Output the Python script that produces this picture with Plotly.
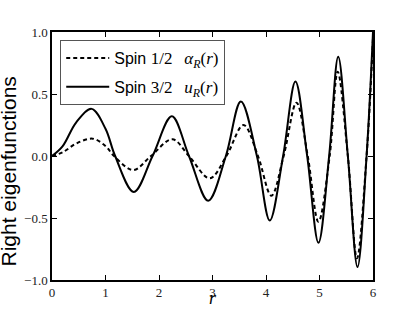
import plotly.graph_objects as go

# Key points (extrema and zero crossings)
r_spin32 = [0.0, 0.2, 0.45, 0.74, 1.0, 1.18, 1.53, 1.88, 2.24, 2.56, 2.92, 3.25, 3.53,
            3.83, 4.07, 4.32, 4.55, 4.77, 4.98, 5.18, 5.35, 5.53, 5.71, 5.88, 6.0]
u_spin32 = [0.0, 0.08, 0.27, 0.38, 0.22, 0.0, -0.29, 0.0, 0.32, 0.0, -0.36, 0.0, 0.44,
            0.0, -0.52, 0.0, 0.60, 0.0, -0.70, 0.0, 0.80, 0.0, -0.895, 0.0, 1.0]

r_spin12 = [0.0, 0.2, 0.45, 0.76, 1.0, 1.16, 1.52, 1.85, 2.25, 2.56, 2.95, 3.26, 3.58,
            3.85, 4.10, 4.33, 4.57, 4.78, 4.98, 5.19, 5.34, 5.53, 5.70, 5.88, 6.0]
a_spin12 = [0.0, 0.03, 0.10, 0.14, 0.08, 0.0, -0.113, 0.0, 0.135, 0.0, -0.18, 0.0, 0.25,
            0.0, -0.32, 0.0, 0.43, 0.0, -0.53, 0.0, 0.68, 0.0, -0.825, 0.0, 0.95]

x_ticks = [0, 1, 2, 3, 4, 5, 6]
y_ticks = [-1.0, -0.5, 0.0, 0.5, 1.0]
y_tick_text = ["\u22121.0", "\u22120.5", "0.0", "0.5", "1.0"]

serif = "Liberation Serif"
sans = "Liberation Sans"

name12 = ('Spin <span style="font-family:Liberation Serif;font-size:17px">1/2\u2002\u2009'
          '<i>\u03b1</i><sub><i>R</i></sub>(<i>r</i>)</span>')
name32 = ('Spin <span style="font-family:Liberation Serif;font-size:17px">3/2\u2002\u2009'
          '<i>u</i><sub><i>R</i></sub>(<i>r</i>)</span>')

fig = go.Figure()
fig.add_trace(go.Scatter(x=r_spin12, y=a_spin12, mode="lines", name=name12, legendgroup="a",
                         line=dict(color="black", width=2, dash="4px,3px",
                                   shape="spline", smoothing=1.0)))
fig.add_trace(go.Scatter(x=r_spin32, y=u_spin32, mode="lines", name=name32, legendgroup="b",
                         line=dict(color="black", width=2,
                                   shape="spline", smoothing=1.0)))

axis_common = dict(showline=True, linecolor="black", linewidth=1.5, mirror="ticks",
                   ticks="inside", ticklen=5, tickcolor="black", tickwidth=1,
                   showgrid=False, zeroline=False, automargin=False,
                   tickfont=dict(family=serif, size=13, color="#222"))

fig.update_xaxes(range=[0, 6], tickvals=x_ticks, ticktext=[str(v) for v in x_ticks],
                 **axis_common)
fig.update_yaxes(range=[-1, 1], tickvals=y_ticks, ticktext=y_tick_text,
                 **axis_common)

fig.add_annotation(text="Right eigenfunctions", xref="paper", yref="paper",
                   x=-0.134, y=0.4375, textangle=-90, showarrow=False,
                   xanchor="center", yanchor="middle",
                   font=dict(family=sans, size=21, color="black"))
fig.add_annotation(text="<i>r</i>", xref="x", yref="paper",
                   x=3, y=-0.119, showarrow=False, xanchor="center", yanchor="bottom",
                   font=dict(family=serif, size=18, color="black"))

fig.update_layout(
    width=415, height=312,
    margin=dict(l=52, r=42, t=32, b=32),
    plot_bgcolor="white", paper_bgcolor="white",
    showlegend=True,
    legend=dict(x=0.025, y=0.968, xanchor="left", yanchor="top",
                bgcolor="white", bordercolor="#555", borderwidth=1.2,
                font=dict(family=sans, size=16, color="black"),
                tracegroupgap=5, itemwidth=43),
)

fig.write_html("out.html", config={"displayModeBar": False},
               post_script="document.body.style.margin='0px';document.body.style.overflow='hidden';")
